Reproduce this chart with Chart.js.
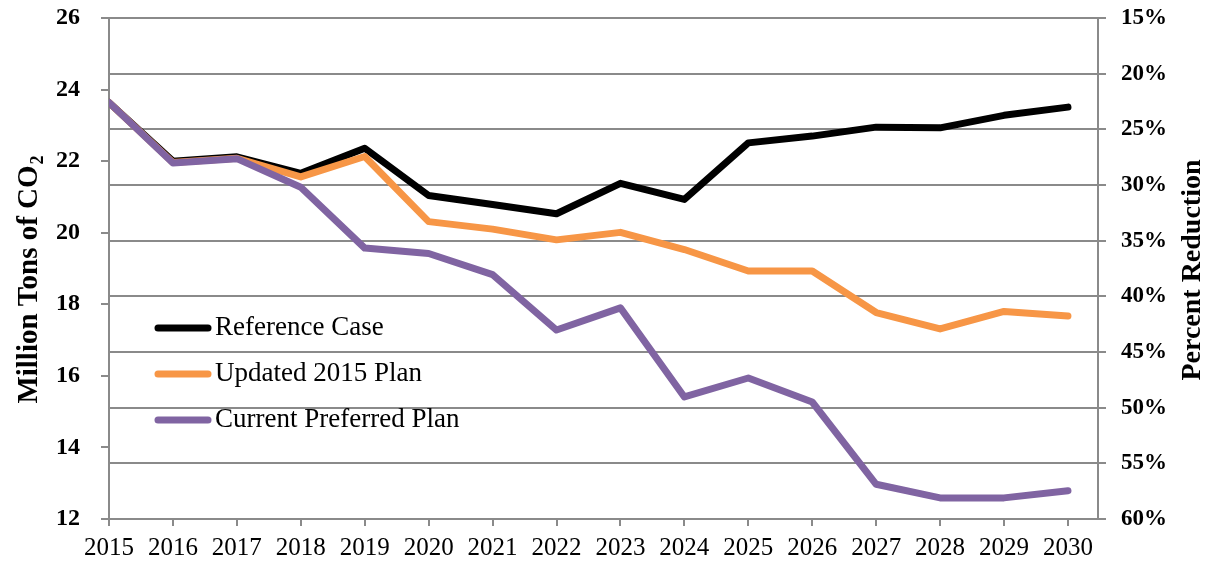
<!DOCTYPE html>
<html>
<head>
<meta charset="utf-8">
<script src="https://cdn.jsdelivr.net/npm/chart.js@4.4.1/dist/chart.umd.min.js"></script>
<style>
  body { margin: 0; background: #fff; }
  #wrap { width: 1205px; height: 563px; }
</style>
</head>
<body>
<div id="wrap"><canvas id="chart" width="1205" height="563"></canvas></div>
<script>
const years = [2015, 2016, 2017, 2018, 2019, 2020, 2021, 2022, 2023, 2024, 2025, 2026, 2027, 2028, 2029, 2030];

const referenceCase = [23.64, 22.00, 22.12, 21.66, 22.36, 21.04, 20.79, 20.53, 21.38, 20.93, 22.51, 22.70, 22.95, 22.93, 23.28, 23.51];
const updatedPlan = [23.64, 21.96, 22.08, 21.56, 22.13, 20.31, 20.10, 19.80, 20.01, 19.53, 18.93, 18.93, 17.77, 17.31, 17.80, 17.67];
const preferredPlan = [23.64, 21.95, 22.07, 21.27, 19.57, 19.42, 18.83, 17.28, 17.90, 15.41, 15.94, 15.27, 12.97, 12.59, 12.59, 12.79];

const seriesNames = ['Reference Case', 'Updated 2015 Plan', 'Current Preferred Plan'];
const seriesColors = ['#000000', '#F79646', '#8064A2'];

const leftTitle = 'Million Tons of CO';
const leftTitleSub = '2';
const rightTitle = 'Percent Reduction';

const font = "'Liberation Serif', 'Times New Roman', serif";
const gray = '#8a8a8a';

const toPoints = (vals) => vals.map((v, i) => ({ x: years[i], y: v }));

const makeSet = (i, vals) => ({
    label: seriesNames[i],
    data: toPoints(vals),
    borderColor: seriesColors[i],
    backgroundColor: seriesColors[i],
    borderWidth: 7,
    pointRadius: 0,
    tension: 0,
    borderCapStyle: 'round',
    borderJoinStyle: 'round',
    order: 3 - i,
    yAxisID: 'y'
});

// fixed scale sizes; drop the extra top/bottom room the tick padding asks for
const fixWidth = (w) => (s) => {
    s.width = w;
    s.paddingTop = 0;
    s.paddingBottom = 0;
};

// legend inside the plot and the two axis titles
const overlay = {
    id: 'overlay',
    afterDraw(chart) {
        const { ctx, chartArea } = chart;
        ctx.save();

        ctx.font = '27px ' + font;
        ctx.textBaseline = 'middle';
        ctx.textAlign = 'left';
        seriesNames.forEach((name, i) => {
            const y = chartArea.top + 310 + i * 46;
            const x0 = chartArea.left + 49;
            ctx.strokeStyle = seriesColors[i];
            ctx.lineWidth = 7;
            ctx.lineCap = 'round';
            ctx.beginPath();
            ctx.moveTo(x0, y);
            ctx.lineTo(x0 + 50, y);
            ctx.stroke();
            ctx.fillStyle = '#000';
            ctx.fillText(name, x0 + 57, y);
        });

        // left title, with a subscript 2
        ctx.save();
        ctx.translate(30, chartArea.top + 262);
        ctx.rotate(-Math.PI / 2);
        ctx.fillStyle = '#000';
        ctx.font = 'bold 29px ' + font;
        const w1 = ctx.measureText(leftTitle).width;
        ctx.font = 'bold 18px ' + font;
        const w2 = ctx.measureText(leftTitleSub).width;
        const start = -(w1 + w2) / 2;
        ctx.textAlign = 'left';
        ctx.textBaseline = 'middle';
        ctx.font = 'bold 29px ' + font;
        ctx.fillText(leftTitle, start, 0);
        ctx.font = 'bold 18px ' + font;
        ctx.fillText(leftTitleSub, start + w1 + 1, 8);
        ctx.restore();

        // right title
        ctx.save();
        ctx.translate(1193, chartArea.top + 252);
        ctx.rotate(-Math.PI / 2);
        ctx.fillStyle = '#000';
        ctx.font = 'bold 28px ' + font;
        ctx.textAlign = 'center';
        ctx.textBaseline = 'middle';
        ctx.fillText(rightTitle, 0, 0);
        ctx.restore();

        ctx.restore();
    }
};

const config = {
    type: 'line',
    data: {
        datasets: [
            makeSet(0, referenceCase),
            makeSet(1, updatedPlan),
            makeSet(2, preferredPlan)
        ]
    },
    options: {
        responsive: false,
        animation: false,
        layout: { padding: { top: 18, left: 0, right: 0, bottom: 0 } },
        plugins: {
            legend: { display: false },
            tooltip: { enabled: false }
        },
        scales: {
            x: {
                type: 'linear',
                min: 2015,
                max: 2030.47,
                afterFit: (s) => { s.height = 44; },
                border: { color: gray, width: 2 },
                grid: { drawOnChartArea: false, color: gray, lineWidth: 2, tickLength: 7 },
                ticks: {
                    stepSize: 1,
                    includeBounds: false,
                    autoSkip: false,
                    maxRotation: 0,
                    padding: 7,
                    color: '#000',
                    font: { family: font, size: 25 },
                    callback: (v) => String(v)
                }
            },
            y: {
                position: 'left',
                min: 12,
                max: 26,
                afterFit: fixWidth(109),
                border: { color: gray, width: 2 },
                grid: { drawOnChartArea: false, color: gray, lineWidth: 2, tickLength: 8 },
                ticks: {
                    stepSize: 2,
                    padding: 21,
                    color: '#000',
                    font: { family: font, size: 24, weight: 'bold' }
                }
            },
            y2: {
                position: 'right',
                min: 15,
                max: 60,
                reverse: true,
                afterFit: fixWidth(107),
                border: { color: gray, width: 2 },
                grid: { color: gray, lineWidth: 2, tickLength: 8 },
                ticks: {
                    stepSize: 5,
                    padding: 15,
                    color: '#000',
                    font: { family: font, size: 23, weight: 'bold' },
                    callback: (v) => v + '%'
                }
            }
        }
    },
    plugins: [overlay]
};

const chart = new Chart(document.getElementById('chart'), config);
</script>
</body>
</html>
